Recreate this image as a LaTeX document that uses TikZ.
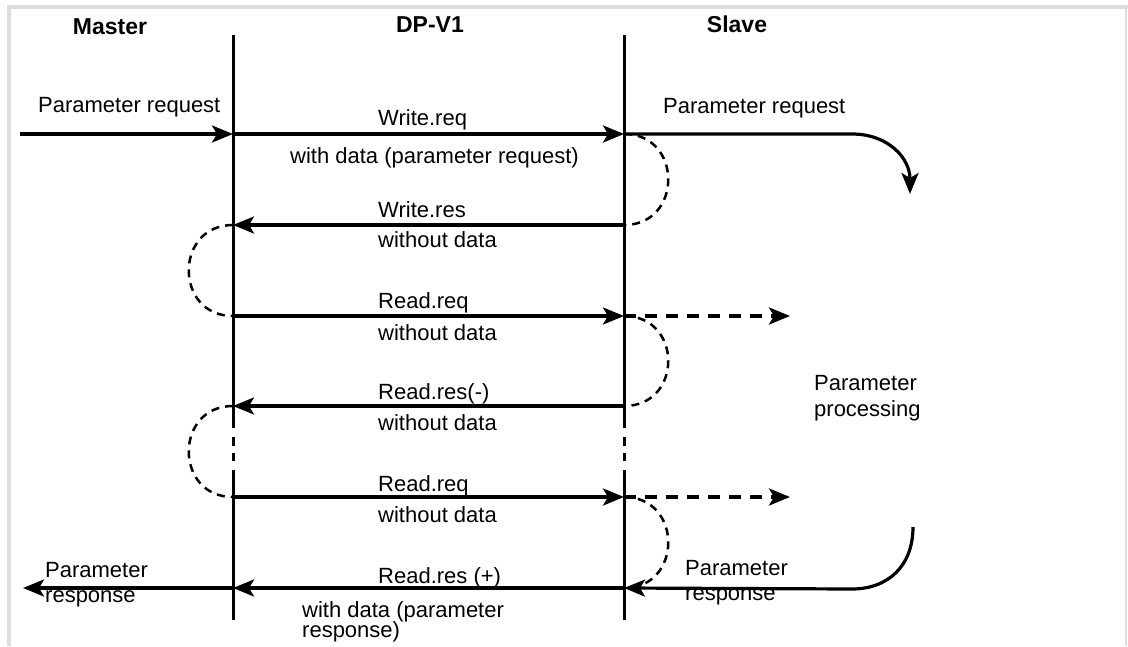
\documentclass[tikz,border=0pt]{standalone}
\usepackage{fontspec}
\setmainfont{Liberation Sans}
\usetikzlibrary{arrows.meta}
\begin{document}
\begin{tikzpicture}[x=1pt,y=-1pt,
  txt/.style={anchor=base west, inner sep=0pt, font=\fontsize{22}{26}\selectfont},
  hdr/.style={anchor=base, inner sep=0pt, font=\fontsize{23}{26}\selectfont\bfseries},
  life/.style={line width=3pt},
  msg/.style={line width=3.2pt, -{Stealth[length=21pt,width=17pt,inset=5pt]}},
  dmsg/.style={line width=3.4pt, dash pattern=on 12pt off 9pt, -{Stealth[length=21pt,width=17pt,inset=5pt]}},
  waitarc/.style={line width=2.5pt, dash pattern=on 8pt off 6pt},
  framecol/.style={fill=black!13, draw=none}]
\useasboundingbox (0,0) rectangle (1128,646);
% frame
\fill[framecol] (7,5) rectangle (1128,9);
\fill[framecol] (7,5) rectangle (11,646);
\draw[black!13, line width=1.5pt] (1126,9) -- (1126,646);

% headers
\node[hdr] (hM) at (110,34) {Master};
\node[hdr] (hD) at (430,32) {DP-V1};
\node[hdr] (hS) at (737,32) {Slave};

% lifeline coordinates
\coordinate (mT) at (233,35); \coordinate (mB) at (233,620);
\coordinate (sT) at (624,35); \coordinate (sB) at (624,620);
\coordinate (m1) at (233,134); \coordinate (s1) at (624,134);
\coordinate (m2) at (233,225); \coordinate (s2) at (624,225);
\coordinate (m3) at (233,316); \coordinate (s3) at (624,316);
\coordinate (m4) at (233,406); \coordinate (s4) at (624,406);
\coordinate (m5) at (233,497); \coordinate (s5) at (624,497);
\coordinate (m6) at (233,588); \coordinate (s6) at (624,588);

% lifelines
\draw[life] (mT) -- (233,428);
\draw[life] (233,437) -- (233,446);
\draw[life] (233,453) -- (233,461);
\draw[life] (233,470) -- (mB);
\draw[life] (sT) -- (624,428);
\draw[life] (624,437) -- (624,446);
\draw[life] (624,453) -- (624,461);
\draw[life] (624,470) -- (sB);

% outer arrows
\coordinate (inL) at (20,134);
\coordinate (outL) at (23,588);
\coordinate (rq1) at (852,134);
\coordinate (rq2) at (910,194);
\coordinate (rp1) at (913,527);
\coordinate (rp2) at (852,589);
\coordinate (d3) at (790,316);
\coordinate (d5) at (790,497);

\draw[msg] (inL) -- (m1);
\draw[msg] (s1) -- (rq1) .. controls (888,134) and (910,158) .. (rq2);
\draw[msg] (rp1) .. controls (913,566) and (888,589) .. (rp2) -- (s6);
\draw[msg] (m6) -- (outL);

% messages
\draw[msg] (m1) -- (s1);
\draw[msg] (s2) -- (m2);
\draw[msg] (m3) -- (s3);
\draw[msg] (s4) -- (m4);
\draw[msg] (m5) -- (s5);
\draw[msg] (s6) -- (m6);

% dashed forward arrows
\draw[dmsg] (s3) -- (d3);
\draw[dmsg] (s5) -- (d5);

% waiting arcs
\draw[waitarc] (s1) .. controls +(59,0) and +(59,0) .. (s2);
\draw[waitarc] (m2) .. controls +(-59,0) and +(-59,0) .. (m3);
\draw[waitarc] (s3) .. controls +(59,0) and +(59,0) .. (s4);
\draw[waitarc] (m4) .. controls +(-59,0) and +(-59,0) .. (m5);
\draw[waitarc] (s5) .. controls +(59,0) and +(59,0) .. (s6);

% labels
\node[txt] (lReqL) at (38,112) {Parameter request};
\node[txt] (lReqR) at (663,113) {Parameter request};
\node[txt] (l1a) at (378,125) {Write.req};
\node[txt] (l1b) at (290,163) {with data (parameter request)};
\node[txt] (l2a) at (378,217) {Write.res};
\node[txt] (l2b) at (378,247) {without data};
\node[txt] (l3a) at (378,308) {Read.req};
\node[txt] (l3b) at (378,340) {without data};
\node[txt] (l4a) at (378,399) {Read.res(-)};
\node[txt] (l4b) at (378,430) {without data};
\node[txt] (l5a) at (378,491) {Read.req};
\node[txt] (l5b) at (378,522) {without data};
\node[txt] (l6a) at (378,583) {Read.res (+)};
\node[txt] (l6b) at (302,617) {with data (parameter};
\node[txt] (l6c) at (302,637) {response)};
\node[txt] (pp1) at (814,390) {Parameter};
\node[txt] (pp2) at (814,416) {processing};
\node[txt] (prR1) at (685,575) {Parameter};
\node[txt] (prR2) at (685,600) {response};
\node[txt] (prL1) at (45,577) {Parameter};
\node[txt] (prL2) at (45,602) {response};
\end{tikzpicture}
\end{document}
